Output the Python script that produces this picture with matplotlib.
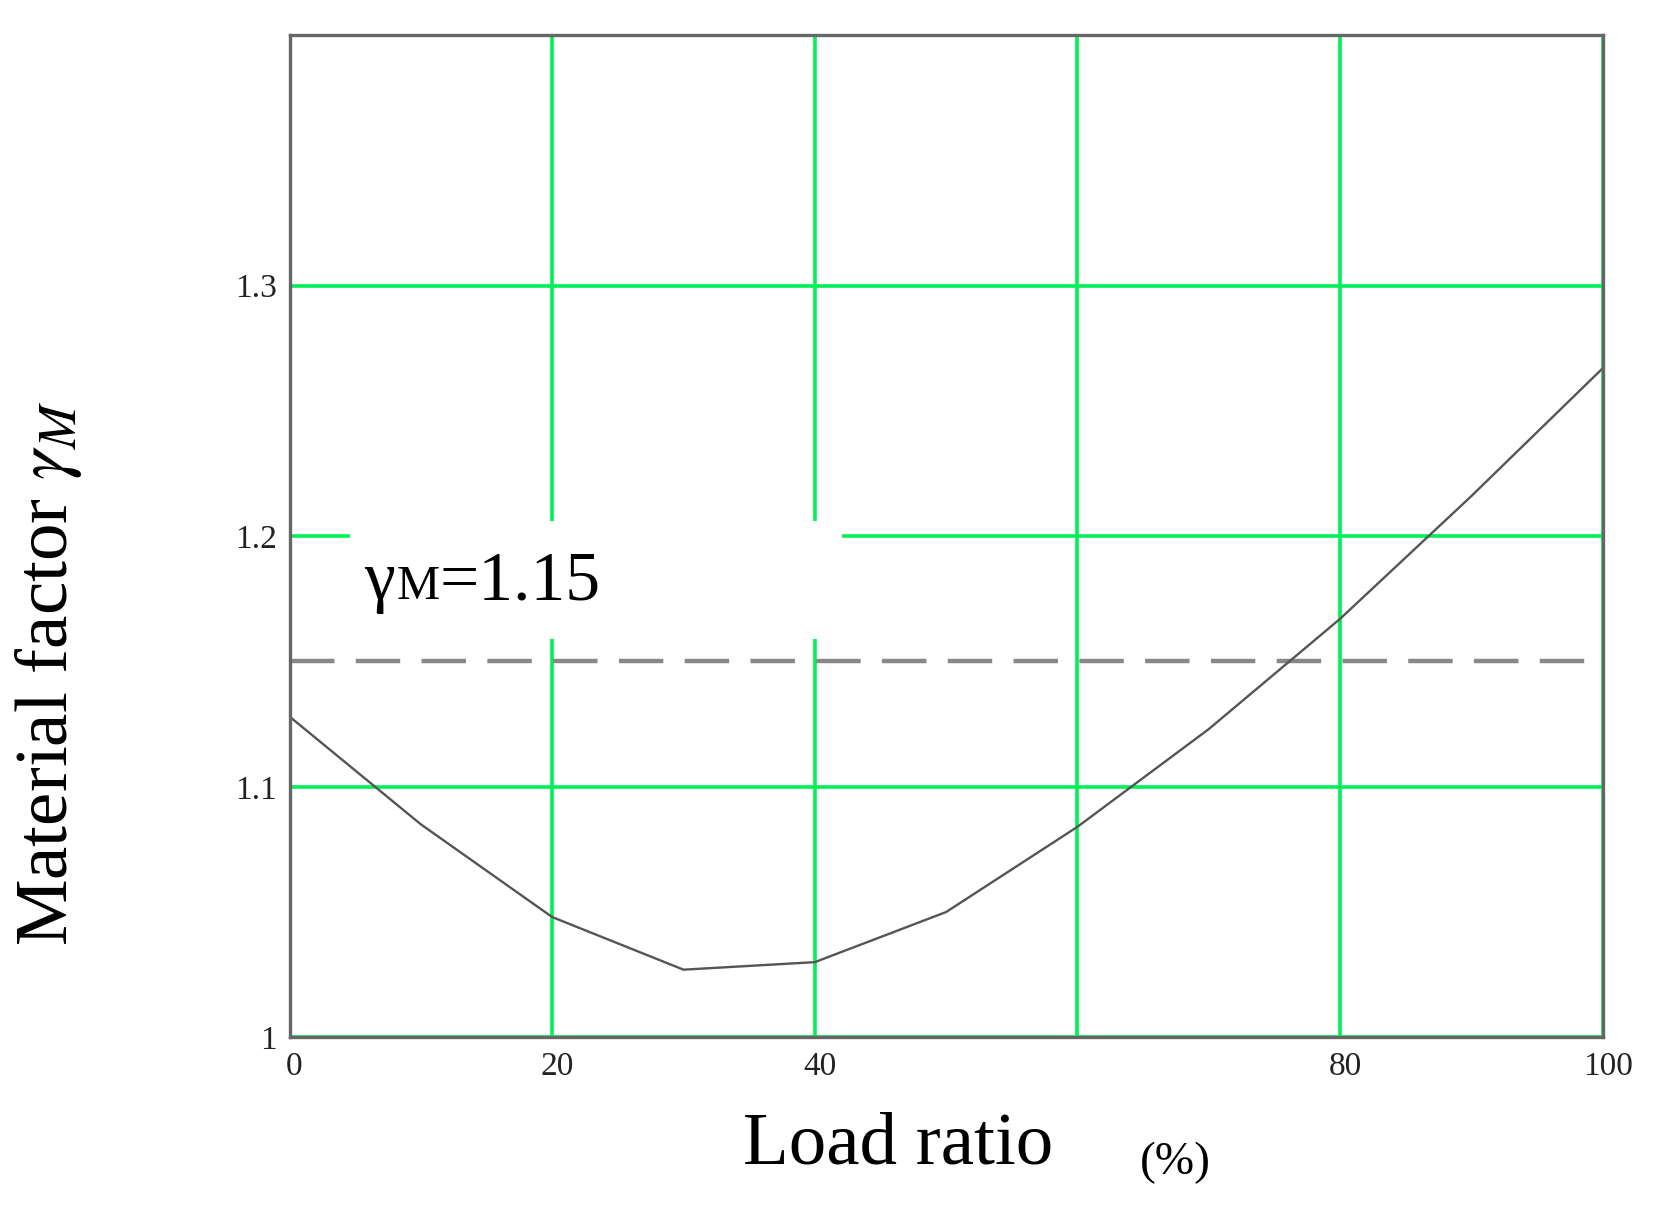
import matplotlib
matplotlib.use("Agg")
import matplotlib.pyplot as plt
from matplotlib.patches import Rectangle
from matplotlib.transforms import ScaledTranslation

# ---- data ----
load_ratio = [0, 10, 20, 30, 40, 50, 60, 70, 80, 90, 100]
material_factor = [1.128, 1.085, 1.048, 1.027, 1.030, 1.050, 1.084, 1.123, 1.167, 1.216, 1.267]
reference_gamma = 1.15
x_ticks = [0, 20, 40, 60, 80, 100]
x_tick_labels = ["0", "20", "40", "", "80", "100"]
y_ticks = [1.0, 1.1, 1.2, 1.3]
y_tick_labels = ["1", "1.1", "1.2", "1.3"]

plt.rcParams['font.family'] = ['Liberation Serif', 'DejaVu Serif']
plt.rcParams['mathtext.fontset'] = 'stix'

fig = plt.figure(figsize=(16.67, 12.09), dpi=100)
ax = fig.add_axes([0.1737, 0.142, 0.7877, 0.829])

ax.set_xlim(0, 100)
ax.set_ylim(1.0, 1.4)
ax.set_xticks(x_ticks)
ax.set_xticklabels(x_tick_labels)
ax.set_yticks(y_ticks)
ax.set_yticklabels(y_tick_labels)
ax.tick_params(axis='both', length=0, labelsize=24, labelcolor='#222222')
ax.tick_params(axis='x', pad=10)
ax.tick_params(axis='y', pad=9)
off = ScaledTranslation(5 / 100, 0, fig.dpi_scale_trans)
for lab in ax.get_xticklabels():
    lab.set_transform(lab.get_transform() + off)

ax.set_axisbelow(True)
ax.grid(True, color='#00f055', linewidth=2.6)

for s in ax.spines.values():
    s.set_color('#666666')
    s.set_linewidth(2.4)
    s.set_zorder(5)

# white box behind annotation
ax.add_patch(Rectangle((4.6, 1.159), 37.5, 0.047, facecolor='white',
                       edgecolor='none', zorder=1))

ax.axhline(reference_gamma, color='#888888', linewidth=3.2,
           dashes=(10, 4.8), zorder=2)
ax.plot(load_ratio, material_factor, color='#555555', linewidth=1.7, zorder=3)

# annotation gamma_M = 1.15
base_y = 1.1748
t1 = ax.text(5.7, base_y, 'γ', fontsize=50, va='baseline', ha='left', zorder=4)
fig.canvas.draw()
r = fig.canvas.get_renderer()
bb = t1.get_window_extent(r)
x_next = ax.transData.inverted().transform((bb.x1 + 1, bb.y0))[0]
t2 = ax.text(x_next, base_y, 'M', fontsize=35, va='baseline', ha='left', zorder=4)
fig.canvas.draw()
bb2 = t2.get_window_extent(r)
x_next2 = ax.transData.inverted().transform((bb2.x1, bb2.y0))[0]
ax.text(x_next2, base_y, '=1.15', fontsize=50, va='baseline', ha='left', zorder=4)

# axis labels
fig.text(0.029, 0.443, r'Material factor $\gamma_{M}$', fontsize=54,
         rotation=90, ha='center', va='center')
fig.text(0.539, 0.038, 'Load ratio', fontsize=54, ha='center', va='baseline')
fig.text(0.705, 0.038, '(%)', fontsize=34, ha='center', va='center')

fig.savefig('out.png', dpi=100)
